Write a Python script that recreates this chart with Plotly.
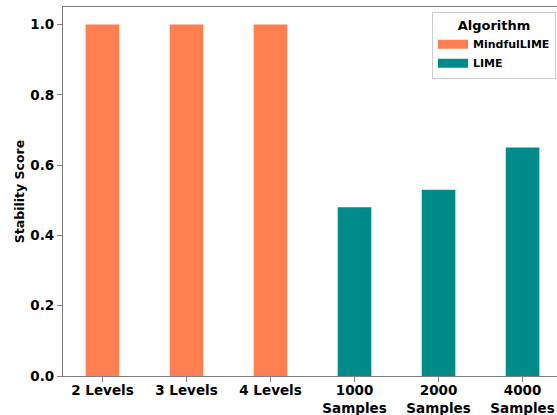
import plotly.graph_objects as go

categories = ["2 Levels", "3 Levels", "4 Levels", "1000<br>Samples", "2000<br>Samples", "4000<br>Samples"]
mindful_cats = categories[:3]
mindful_vals = [1.0, 1.0, 1.0]
lime_cats = categories[3:]
lime_vals = [0.48, 0.53, 0.65]
y_ticks = [0.0, 0.2, 0.4, 0.6, 0.8, 1.0]
y_ticklabels = ["0.0", "0.2", "0.4", "0.6", "0.8", "1.0"]
series_names = ["MindfulLIME", "LIME"]
series_colors = ["#FF7F50", "#008B8B"]

font = dict(family="DejaVu Sans", size=13.5, color="black", weight="bold")

fig = go.Figure()
fig.add_trace(go.Bar(x=mindful_cats, y=mindful_vals, name=series_names[0],
                     marker=dict(color=series_colors[0], line=dict(width=0)), width=0.4,
                     showlegend=False))
fig.add_trace(go.Bar(x=lime_cats, y=lime_vals, name=series_names[1],
                     marker=dict(color=series_colors[1], line=dict(width=0)), width=0.4,
                     showlegend=False))
# legend patches (wide rectangles like the reference)
for n, c in zip(series_names, series_colors):
    fig.add_trace(go.Scatter(x=[None], y=[None], mode="lines", name=n,
                             line=dict(color=c, width=9)))

fig.update_layout(
    width=557, height=415,
    margin=dict(l=63, r=0, t=7, b=39),
    paper_bgcolor="white", plot_bgcolor="white",
    barmode="overlay",
    font=font,
    legend=dict(
        title=dict(text="Algorithm", font=dict(family="DejaVu Sans", size=13, weight="bold"), side="top center"),
        font=dict(family="DejaVu Sans", size=11, weight="bold"),
        x=0.998, xanchor="right", y=0.987, yanchor="top",
        bgcolor="white", bordercolor="#cccccc", borderwidth=1,
        itemwidth=30, tracegroupgap=2,
    ),
    xaxis=dict(
        type="category", categoryorder="array", categoryarray=categories,
        range=[-0.47, 5.41],
        showline=True, linecolor="#808080", linewidth=1.2, mirror=True,
        ticks="outside", ticklen=5, tickcolor="#808080",
        showgrid=False, tickfont=font, ticklabelstandoff=-3,
    ),
    yaxis=dict(
        range=[0, 1.05],
        tickvals=y_ticks, ticktext=y_ticklabels,
        showline=True, linecolor="#808080", linewidth=1.2, mirror=False,
        ticks="outside", ticklen=5, tickcolor="#808080",
        showgrid=False, zeroline=False, tickfont=font,
        title=dict(text="Stability Score", font=dict(family="DejaVu Sans", size=12.5, weight="bold"), standoff=2),
    ),
)

fig.write_html("out.html", config={"displayModeBar": False},
               post_script="document.body.style.margin='0px';")
